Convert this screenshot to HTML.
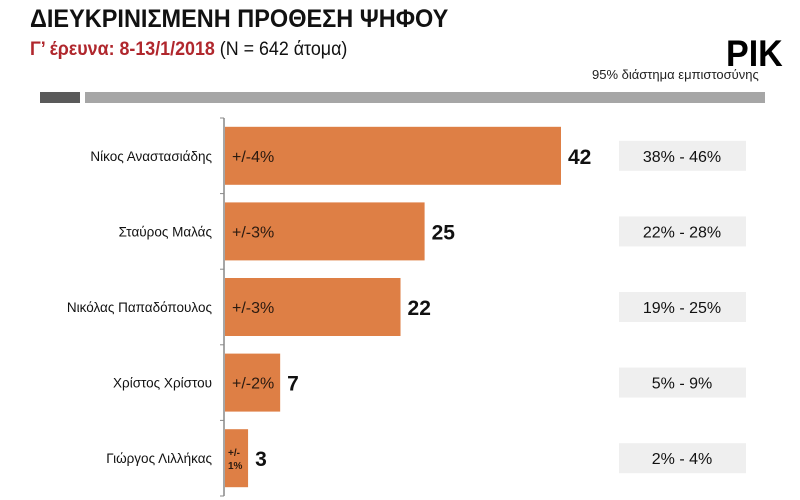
<!DOCTYPE html>
<html><head><meta charset="utf-8"><style>
body{margin:0;width:800px;height:500px;background:#fff;overflow:hidden;font-family:"Liberation Sans","DejaVu Sans",sans-serif;position:relative}
.t{position:absolute;white-space:nowrap}
</style></head><body>
<div class="t" style="left:30px;top:5px;font-size:25px;font-weight:bold;color:#111;transform:scaleX(0.94);transform-origin:left top">ΔΙΕΥΚΡΙΝΙΣΜΕΝΗ ΠΡΟΘΕΣΗ ΨΗΦΟΥ</div>
<div class="t" style="left:30px;top:39px;font-size:19px;color:#111;transform:scaleX(0.94);transform-origin:left top"><span style="color:#b0272d;font-weight:bold">Γ’ έρευνα: 8-13/1/2018</span> (Ν = 642 άτομα)</div>
<div class="t" style="left:726px;top:33px;font-size:37px;font-weight:bold;color:#000;transform:scaleX(0.92);transform-origin:left top">PIK</div>
<div class="t" style="left:592px;top:67px;font-size:13px;color:#222;transform:scaleX(1.0);transform-origin:left top">95% διάστημα εμπιστοσύνης</div>
<div style="position:absolute;left:40px;top:92px;width:40px;height:11px;background:#5a5a5a"></div>
<div style="position:absolute;left:85px;top:92px;width:680px;height:11px;background:#a6a6a6"></div>
<svg id="chart" width="800" height="500" style="position:absolute;left:0;top:0"></svg>
<script>
const names=["Νίκος Αναστασιάδης","Σταύρος Μαλάς","Νικόλας Παπαδόπουλος","Χρίστος Χρίστου","Γιώργος Λιλλήκας"];
const values=[42,25,22,7,3];
const margins=["+/-4%","+/-3%","+/-3%","+/-2%","+/-1%"];
const ranges=["38% - 46%","22% - 28%","19% - 25%","5% - 9%","2% - 4%"];
const svg=document.getElementById('chart');
const NS="http://www.w3.org/2000/svg";
const x0=224,scale=337/42,top0=118,step=75.6,bh=58;
const xs=v=>x0+v*scale;
const yc=i=>top0+step*i+step/2;
function mk(tag,attrs,txt){const e=document.createElementNS(NS,tag);for(const k in attrs)e.setAttribute(k,attrs[k]);if(txt!==undefined)e.textContent=txt;svg.appendChild(e);return e;}
const ax=mk('line',{x1:x0,x2:x0,y1:top0,y2:top0+step*5,stroke:'#888','stroke-width':1.5});


for(let i=0;i<=5;i++){const tk=mk('line',{x1:x0-4,x2:x0,y1:top0+step*i,y2:top0+step*i,stroke:'#888'});

}
names.forEach((n,i)=>{
 const c=yc(i);
 const lb=mk('text',{x:212,y:c+5,'text-anchor':'end','font-size':13.5,fill:'#111'},n);
 
 
 const r=mk('rect',{x:x0+1,y:c-bh/2,width:xs(values[i])-x0-1,height:bh,fill:'#de7f45'});
 
 
 if(values[i]>=5){
  const m=mk('text',{x:x0+8,y:c+6,'font-size':16,fill:'#2a1a10'},margins[i]);
  
  
 } else {
  const p=margins[i].split('-');
  const m=mk('text',{x:x0+4,y:c-2,'font-size':10,'font-weight':'bold',fill:'#2a1a10'},p[0]+'-');
  
  
  const m2=mk('text',{x:x0+4,y:c+11,'font-size':10,'font-weight':'bold',fill:'#2a1a10'},p[1]);
  
  
 }
 const v=mk('text',{x:xs(values[i])+7,y:c+8,'font-size':21,'font-weight':'bold',fill:'#111'},values[i]);
 
 
 const b=mk('rect',{x:619,y:c-15,width:127,height:30,fill:'#efefef'});
 
 
 const rt=mk('text',{x:682,y:c+6,'text-anchor':'middle','font-size':16,fill:'#111'},ranges[i]);
 
 
});
</script>
</body></html>
